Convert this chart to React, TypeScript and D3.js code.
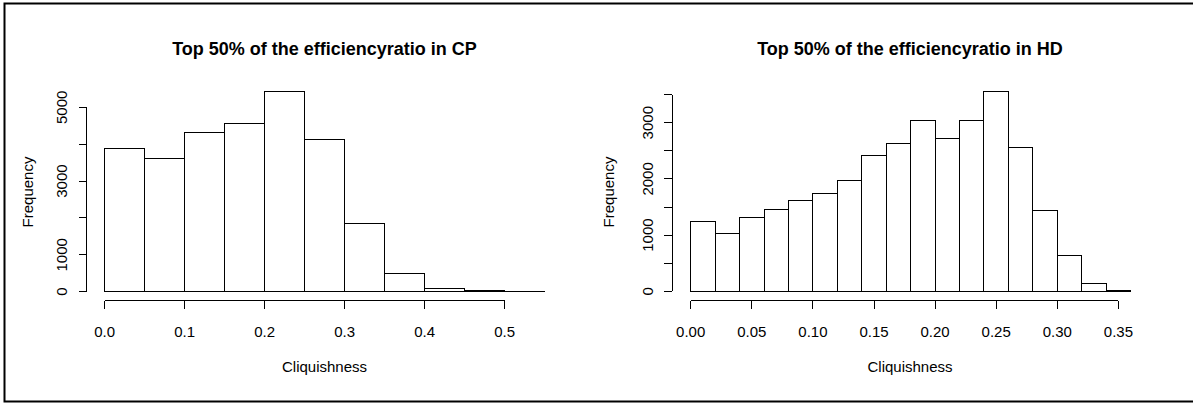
import React, { useRef, useEffect } from "react";
import * as d3 from "d3";

// histogram data
const cpBreaks = [0, 0.05, 0.1, 0.15, 0.2, 0.25, 0.3, 0.35, 0.4, 0.45, 0.5, 0.55];
const cpCounts = [3890, 3620, 4320, 4570, 5430, 4130, 1855, 480, 100, 22, 6];
const cpXTicks = [0, 0.1, 0.2, 0.3, 0.4, 0.5];
const cpYTicks = [0, 1000, 2000, 3000, 4000, 5000];
const cpYLabels = [0, 1000, 3000, 5000];

const hdBreaks = [
  0, 0.02, 0.04, 0.06, 0.08, 0.1, 0.12, 0.14, 0.16, 0.18, 0.2, 0.22, 0.24,
  0.26, 0.28, 0.3, 0.32, 0.34, 0.36,
];
const hdCounts = [
  1245, 1030, 1320, 1455, 1620, 1740, 1975, 2415, 2630, 3035, 2715, 3035,
  3550, 2560, 1440, 645, 135, 15,
];
const hdXTicks = [0, 0.05, 0.1, 0.15, 0.2, 0.25, 0.3, 0.35];
const hdYTicks = [0, 500, 1000, 1500, 2000, 2500, 3000, 3500];
const hdYLabels = [0, 1000, 2000, 3000];

const W = 1193;
const H = 403;
const font = "'Liberation Sans', Arial, sans-serif";
const axisFont = "15px";

const panels = [
  {
    title: "Top 50% of the efficiencyratio in CP",
    breaks: cpBreaks,
    counts: cpCounts,
    xTicks: cpXTicks,
    xFmt: d3.format(".1f"),
    yTicks: cpYTicks,
    yLabels: cpYLabels,
    xDomain: [0, 0.5],
    xRange: [104.7, 504.7],
    yDomain: [0, 5000],
    yRange: [291.7, 107.3],
    axisX: 86.7,
    axisY: 300.5,
    center: 324.5,
    ylabX: 32.5,
  },
  {
    title: "Top 50% of the efficiencyratio in HD",
    breaks: hdBreaks,
    counts: hdCounts,
    xTicks: hdXTicks,
    xFmt: d3.format(".2f"),
    yTicks: hdYTicks,
    yLabels: hdYLabels,
    xDomain: [0, 0.35],
    xRange: [690.7, 1118.4],
    yDomain: [0, 3500],
    yRange: [291.3, 94.6],
    axisX: 672.3,
    axisY: 300.5,
    center: 910,
    ylabX: 614,
  },
];

const App = () => {
  const chartRef = useRef<SVGSVGElement>(null);

  useEffect(() => {
    const svg = d3.select(chartRef.current);
    svg.selectAll("*").remove();

    svg
      .append("rect")
      .attr("width", W)
      .attr("height", H)
      .attr("fill", "#fff");

    // outer frame (left, top, bottom)
    svg
      .append("path")
      .attr("d", `M${W},3.5 H4.5 V401.5 H${W}`)
      .attr("fill", "none")
      .attr("stroke", "#000")
      .attr("stroke-width", 2);

    panels.forEach((p) => {
      const x = d3.scaleLinear().domain(p.xDomain).range(p.xRange);
      const y = d3.scaleLinear().domain(p.yDomain).range(p.yRange);
      const g = svg.append("g").attr("shape-rendering", "crispEdges");

      const bins = p.counts.map((c, i) => ({
        x0: p.breaks[i],
        x1: p.breaks[i + 1],
        count: c,
      }));

      g.selectAll(".bar")
        .data(bins)
        .enter()
        .append("rect")
        .attr("class", "bar")
        .attr("x", (d) => x(d.x0))
        .attr("y", (d) => y(d.count))
        .attr("width", (d) => x(d.x1) - x(d.x0))
        .attr("height", (d) => y(0) - y(d.count))
        .attr("fill", "#fff")
        .attr("stroke", "#000")
        .attr("stroke-width", 1);

      // x axis, R style: line from first to last tick
      const xa = g.append("g");
      xa.append("line")
        .attr("x1", x(p.xTicks[0]))
        .attr("x2", x(p.xTicks[p.xTicks.length - 1]))
        .attr("y1", p.axisY)
        .attr("y2", p.axisY)
        .attr("stroke", "#000");
      xa.selectAll(".xt")
        .data(p.xTicks)
        .enter()
        .append("line")
        .attr("x1", (d) => x(d))
        .attr("x2", (d) => x(d))
        .attr("y1", p.axisY)
        .attr("y2", p.axisY + 8)
        .attr("stroke", "#000");
      xa.selectAll(".xl")
        .data(p.xTicks)
        .enter()
        .append("text")
        .attr("x", (d) => x(d))
        .attr("y", 337)
        .attr("text-anchor", "middle")
        .style("font-family", font)
        .style("font-size", axisFont)
        .text((d) => p.xFmt(d));

      // y axis
      const ya = g.append("g");
      ya.append("line")
        .attr("x1", p.axisX)
        .attr("x2", p.axisX)
        .attr("y1", y(p.yTicks[0]))
        .attr("y2", y(p.yTicks[p.yTicks.length - 1]))
        .attr("stroke", "#000");
      ya.selectAll(".yt")
        .data(p.yTicks)
        .enter()
        .append("line")
        .attr("x1", p.axisX - 8)
        .attr("x2", p.axisX)
        .attr("y1", (d) => y(d))
        .attr("y2", (d) => y(d))
        .attr("stroke", "#000");
      ya.selectAll(".yl")
        .data(p.yLabels)
        .enter()
        .append("text")
        .attr(
          "transform",
          (d) => `translate(${p.axisX - 19.5},${y(d)}) rotate(-90)`
        )
        .attr("text-anchor", "middle")
        .style("font-family", font)
        .style("font-size", axisFont)
        .text((d) => String(d));

      svg
        .append("text")
        .attr("x", p.center)
        .attr("y", 55)
        .attr("text-anchor", "middle")
        .style("font-family", font)
        .style("font-size", "18px")
        .style("font-weight", "bold")
        .text(p.title);

      svg
        .append("text")
        .attr("x", p.center)
        .attr("y", 371.5)
        .attr("text-anchor", "middle")
        .style("font-family", font)
        .style("font-size", axisFont)
        .text("Cliquishness");

      svg
        .append("text")
        .attr("transform", `translate(${p.ylabX},192) rotate(-90)`)
        .attr("text-anchor", "middle")
        .style("font-family", font)
        .style("font-size", axisFont)
        .text("Frequency");
    });

    return () => {
      svg.selectAll("*").remove();
    };
  }, []);

  return (
    <svg
      ref={chartRef}
      width={W}
      height={H}
      style={{ position: "absolute", left: 0, top: 0 }}
    />
  );
};

export default App;
